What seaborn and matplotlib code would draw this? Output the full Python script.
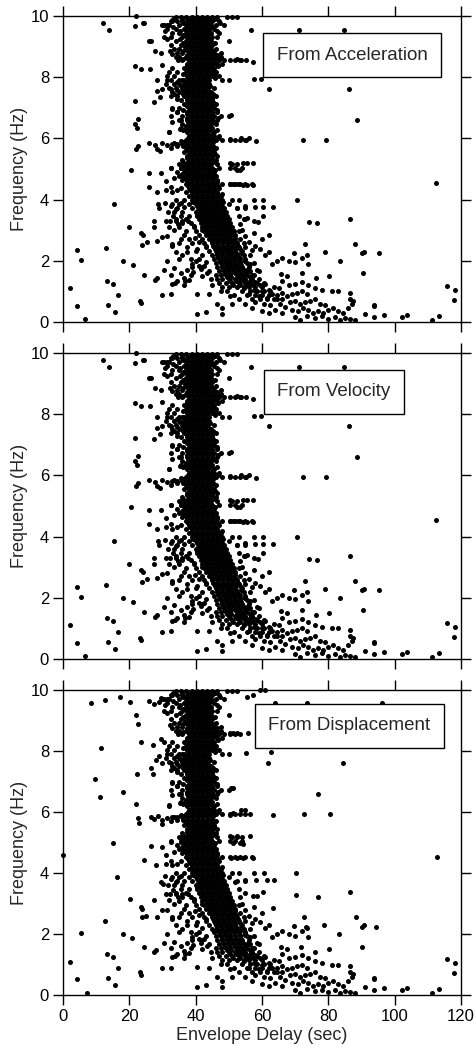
import matplotlib
matplotlib.use("Agg")
import matplotlib.pyplot as plt
import pandas as pd
import seaborn as sns

sns.set_style("ticks")
plt.rcParams['font.family'] = ['Liberation Sans', 'DejaVu Sans']

# ---------------- data (Envelope delay in sec, frequency in Hz) ----------------
panel_titles = ["From Acceleration", "From Velocity", "From Displacement"]
x_ticks = [0, 20, 40, 60, 80, 100, 120]
y_ticks = [0, 2, 4, 6, 8, 10]

# dense band, one row of delays per frequency level
band_freq = [9.96, 9.84, 9.71, 9.58, 9.45, 9.32, 9.19, 9.06, 8.93, 8.80, 8.67, 8.55, 8.42, 8.29,
             8.16, 8.03, 7.90, 7.77, 7.64, 7.51, 7.38, 7.25, 7.12, 6.99, 6.86, 6.73, 6.60, 6.47,
             6.34, 6.21, 6.08, 5.95, 5.82, 5.69, 5.56, 5.43, 5.30, 5.17, 5.04, 4.91, 4.78, 4.65,
             4.52, 4.39, 4.26, 4.13, 4.00, 3.87, 3.74, 3.61, 3.48, 3.35, 3.22, 3.09]
band_delay = [
    [34, 35.5, 37, 39, 40.5, 42, 43.5, 45, 46.5, 49.5, 51, 52.5],
    [33, 34.5, 36, 37.5, 39, 40.5, 42, 43.5, 45, 47],
    [30.5, 32, 35, 37, 38.5, 40, 41.5, 43, 44.5, 46, 48.5],
    [31.5, 34, 36.5, 38, 39.5, 41, 42.5, 44, 45.5],
    [33, 35, 37, 38.5, 40, 41.5, 43, 44.5, 47],
    [30.5, 32.5, 36, 37.5, 39, 40.5, 42, 43.5, 45, 46.5],
    [34, 37, 38.5, 40, 41.5, 43, 44.5, 50],
    [32.5, 35.5, 37.5, 39, 40.5, 42, 43.5, 45],
    [33.5, 35, 37, 38.5, 40, 41.5, 43, 44.5, 46],
    [34.5, 36, 38, 39.5, 41, 42.5, 44, 45.5, 47.5],
    [35, 37, 38.5, 40, 41.5, 43, 44.5, 46, 47.5],
    [36, 38, 39.5, 41, 42.5, 44, 45.5, 47, 48.5, 50.5, 52, 53.5],
    [37.5, 39, 40.5, 42, 43.5, 45, 46.5, 48],
    [33, 36.5, 38, 39.5, 41, 42.5, 44, 45.5],
    [32, 34.5, 37, 38.5, 40, 41.5, 43, 44.5, 46],
    [31.5, 33.5, 37.5, 39, 40.5, 42, 43.5, 45, 47],
    [32.5, 35, 36.5, 38, 39.5, 41, 42.5, 44, 48, 50],
    [31, 33.5, 35, 36.5, 38, 39.5, 41, 42.5, 44],
    [32, 34, 36, 37.5, 39, 40.5, 42, 43.5, 45.5],
    [33, 35, 37, 38.5, 40, 41.5, 43, 44.5],
    [32.5, 34.5, 36.5, 38, 39.5, 41, 42.5, 44, 46],
    [35.5, 37.5, 39, 40.5, 42, 43.5, 45],
    [36.5, 38.5, 40, 41.5, 43, 44.5, 46],
    [33, 35, 38, 39.5, 41, 42.5, 44, 45.5],
    [34.5, 37.5, 39, 40.5, 42, 43.5, 45, 46.5],
    [32.5, 36, 38, 39.5, 41, 42.5, 44, 45.5, 47.5, 50],
    [35, 37.5, 39, 40.5, 42, 43.5, 45, 46.5],
    [36, 38.5, 40, 41.5, 43, 44.5, 46],
    [35.5, 37, 39, 40.5, 42, 43.5, 45],
    [32, 37.5, 39, 40.5, 42, 43.5, 45.5],
    [38, 39.5, 41, 42.5, 44, 45.5, 47],
    [37, 38.5, 40, 41.5, 43, 44.5, 46, 48, 50.5, 52, 53.5, 55],
    [33, 34.5, 36, 37.5, 39, 40.5, 42, 43.5, 45],
    [37, 38.5, 40, 41.5, 43, 44.5, 46],
    [36.5, 38, 39.5, 41, 42.5, 44, 45.5],
    [37.5, 39, 40.5, 42, 43.5, 45, 46.5],
    [36, 38, 39.5, 41, 42.5, 44, 46],
    [35, 37, 38.5, 40, 41.5, 43, 44.5, 46.5, 51, 52.5],
    [32.5, 35.5, 37.5, 39, 40.5, 42, 43.5, 45, 47, 50.5, 52, 54],
    [34.5, 36.5, 38, 39.5, 41, 42.5, 44, 45.5],
    [35, 37, 38.5, 40, 41.5, 43, 44.5, 46],
    [36, 37.5, 39, 40.5, 42, 43.5, 45, 46.5],
    [37, 38.5, 40, 41.5, 43, 44.5, 46, 48, 50.5, 52, 53.5, 55, 57],
    [35.5, 38, 39.5, 41, 42.5, 44, 45.5, 47],
    [37, 39, 40.5, 42, 43.5, 45, 46.5],
    [38, 40, 41.5, 43, 44.5, 46, 47.5],
    [34, 36.5, 39, 40.5, 42, 43.5, 45, 46.5, 48, 51, 53],
    [33, 35, 38, 40, 41.5, 43, 44.5, 46, 47.5, 50],
    [34.5, 39, 41, 42.5, 44, 45.5, 47, 48.5, 52.5, 55],
    [33.5, 36, 40, 41.5, 43, 44.5, 46, 47.5, 49],
    [35.5, 38, 40.5, 42, 43.5, 45, 46.5, 48, 49.5, 53],
    [34, 37, 41, 42.5, 44, 45.5, 47, 48.5, 50, 55],
    [36, 38.5, 41.5, 43, 44.5, 46, 47.5, 49, 50.5],
    [35, 39.5, 42, 43.5, 45, 46.5, 48, 49.5, 51],
]

# interleaved rows filling the core of the band
core_freq = [9.90, 9.77, 9.64, 9.51, 9.38, 9.25, 9.12, 9.00, 8.87, 8.74, 8.61, 8.48, 8.35, 8.22,
             8.09, 7.96, 7.83, 7.70, 7.57, 7.44, 7.31, 7.18, 7.05, 6.92, 6.79, 6.66, 6.53, 6.40,
             6.27, 6.14, 6.01, 5.88, 5.75, 5.62, 5.49, 5.36, 5.23, 5.10, 4.97, 4.84, 4.71, 4.58,
             4.45, 4.32, 4.19, 4.06, 3.93, 3.80, 3.67, 3.54, 3.41, 3.28, 3.15, 3.02,
             2.89, 2.76, 2.63, 2.50, 2.37, 2.24, 2.11, 1.98, 1.85, 1.72, 1.59, 1.46, 1.33, 1.20]
core_delay = [
    [35.8, 38.3, 39.8, 41.3, 42.8, 44.3, 45.8],
    [36.3, 37.8, 39.3, 40.8, 42.3, 43.8, 47.3],
    [33.3, 37.3, 38.8, 40.3, 41.8, 43.3, 44.8],
    [35.3, 37.3, 38.8, 40.3, 41.8, 43.3, 46.3],
    [36.3, 37.8, 39.3, 40.8, 42.3, 43.8],
    [35.3, 38.3, 39.8, 41.3, 42.8, 44.3],
    [36.3, 37.8, 39.3, 40.8, 42.3, 43.8, 45.8],
    [36.8, 38.3, 39.8, 41.3, 42.8, 44.3],
    [36.3, 37.8, 39.3, 40.8, 42.3, 43.8, 45.3],
    [37.3, 38.8, 40.3, 41.8, 43.3, 44.8, 46.3],
    [36.3, 37.8, 39.3, 40.8, 42.3, 43.8, 45.3, 46.8],
    [38.3, 39.8, 41.3, 42.8, 44.3, 45.8],
    [37.3, 38.8, 40.3, 41.8, 43.3, 44.8, 46.8],
    [37.8, 39.3, 40.8, 42.3, 43.8, 45.3],
    [36.3, 38.3, 39.8, 41.3, 42.8, 44.3, 45.8],
    [37.8, 39.3, 40.8, 42.3, 43.8, 45.8],
    [34.3, 37.3, 38.8, 40.3, 41.8, 43.3],
    [36.8, 38.3, 39.8, 41.3, 42.8, 44.3],
    [34.3, 36.3, 37.8, 39.3, 40.8, 42.3, 43.8],
    [36.3, 37.8, 39.3, 40.8, 42.3, 43.8, 45.3],
    [37.3, 38.8, 40.3, 41.8, 43.3, 44.8],
    [37.8, 39.3, 40.8, 42.3, 43.8, 45.3],
    [37.3, 38.8, 40.3, 41.8, 43.3, 44.8],
    [36.3, 38.3, 39.8, 41.3, 42.8, 44.3, 46.3],
    [37.3, 38.8, 40.3, 41.8, 43.3, 44.8],
    [37.3, 38.8, 40.3, 41.8, 43.3, 44.8, 46.8],
    [37.8, 39.3, 40.8, 42.3, 43.8, 45.3],
    [38.3, 39.8, 41.3, 42.8, 44.3],
    [36.3, 38.3, 39.8, 41.3, 42.8, 44.3, 46.3],
    [38.8, 40.3, 41.8, 43.3, 44.8],
    [37.8, 39.3, 40.8, 42.3, 43.8, 45.3, 46.8],
    [36.3, 37.8, 39.3, 40.8, 42.3, 43.8, 45.3],
    [36.3, 37.8, 39.3, 40.8, 42.3, 43.8, 45.3],
    [37.3, 38.8, 40.3, 41.8, 43.3, 44.8],
    [38.3, 39.8, 41.3, 42.8, 44.3, 45.8],
    [37.3, 38.8, 40.3, 41.8, 43.3, 44.8],
    [36.3, 37.8, 39.3, 40.8, 42.3, 43.8, 45.3],
    [36.3, 37.8, 39.3, 40.8, 42.3, 43.8],
    [36.8, 38.3, 39.8, 41.3, 42.8, 44.3, 45.8],
    [35.8, 37.8, 39.3, 40.8, 42.3, 43.8, 45.3],
    [36.3, 37.8, 39.3, 40.8, 42.3, 43.8, 45.3],
    [37.3, 38.8, 40.3, 41.8, 43.3, 44.8, 46.3],
    [37.8, 39.3, 40.8, 42.3, 43.8, 45.3, 46.8],
    [38.3, 39.8, 41.3, 42.8, 44.3, 45.8],
    [38.8, 40.3, 41.8, 43.3, 44.8, 46.3, 47.8],
    [39.3, 40.8, 42.3, 43.8, 45.3, 46.8],
    [39.3, 40.8, 42.3, 43.8, 45.3, 46.8, 48.3],
    [40.3, 41.8, 43.3, 44.8, 46.3, 47.8],
    [40.8, 42.3, 43.8, 45.3, 46.8, 48.3],
    [41.3, 42.8, 44.3, 45.8, 47.3, 48.8],
    [41.8, 43.3, 44.8, 46.3, 47.8, 49.3],
    [42.3, 43.8, 45.3, 46.8, 48.3, 49.8],
    [42.8, 44.3, 45.8, 47.3, 48.8, 50.3],
    [43.3, 44.8, 46.3, 47.8, 49.3, 50.8],
    [43.8, 45.3, 46.8, 48.3, 49.8, 51.3],
    [44.3, 45.8, 47.3, 48.8, 50.3, 51.8],
    [44.8, 46.3, 47.8, 49.3, 50.8, 52.3],
    [45.3, 46.8, 48.3, 49.8, 51.3, 52.8],
    [45.8, 47.3, 48.8, 50.3, 51.8, 53.3],
    [46.3, 47.8, 49.3, 50.8, 52.3, 53.8],
    [46.8, 48.3, 49.8, 51.3, 52.8],
    [47.3, 48.8, 50.3, 51.8, 53.3, 54.8],
    [47.8, 49.3, 50.8, 52.3, 53.8],
    [48.3, 49.8, 51.3, 52.8, 54.3, 55.8],
    [48.8, 50.3, 51.8, 53.3, 55.3],
    [49.3, 50.8, 52.8, 54.3, 56.3],
    [50.3, 52.3, 54.3, 56.3],
    [51.3, 53.3, 55.3, 57.3],
]

# knee of the distribution, below 3 Hz
knee_freq = [2.96, 2.83, 2.70, 2.57, 2.44, 2.31, 2.18, 2.05, 1.92, 1.79, 1.66, 1.53,
             1.40, 1.27, 1.14, 1.01, 0.88, 0.75]
knee_delay = [
    [37, 40, 42.5, 44, 45.5, 47, 48.5, 50, 51.5, 53],
    [36.5, 41, 43, 44.5, 46, 47.5, 49, 50.5, 52],
    [38, 42, 44, 45.5, 47, 48.5, 50, 51.5, 53.5],
    [35, 39, 42.5, 45, 46.5, 48, 49.5, 51, 52.5, 54.5],
    [37.5, 43, 45.5, 47, 48.5, 50, 51.5, 53, 55],
    [40, 44, 46, 47.5, 49, 50.5, 52, 54],
    [36, 45, 46.5, 48, 49.5, 51, 52.5, 54.5, 56.5],
    [38.5, 41, 45.5, 47, 48.5, 50, 51.5, 53, 55],
    [46, 47.5, 49, 50.5, 52, 53.5, 55.5, 57.5],
    [39, 42, 46.5, 48, 49.5, 51, 52.5, 54, 56],
    [44, 47, 48.5, 50, 51.5, 53, 54.5, 56.5, 59],
    [46, 47.5, 49, 50.5, 52.5, 54, 55.5, 57.5],
    [46.5, 48, 50, 52, 53.5, 55, 57, 59],
    [47, 49, 51, 53, 55, 56.5, 58.5, 60.5],
    [48, 50, 52.5, 54.5, 56, 58, 60],
    [47.5, 49.5, 54, 56.5, 58.5, 60.5, 62.5],
    [51.5, 55.5, 58, 60, 62, 64.5],
    [53, 57, 59.5, 61.5, 63.5, 66],
]

# scattered points at the left fringe of the band (shared)
mid_points = [
    (29.8, 9.69), (30.9, 9.5), (31.3, 9.69), (31.4, 9.26), (32.5, 9.85), (33.2, 9.9), (32.2, 8.85),
    (33, 8.75), (34, 8.65), (34.8, 8.55), (31.4, 7.9), (32.5, 7.6), (33.5, 7.45), (34.5, 7.3),
    (35.2, 7.75), (36, 7.9), (30, 7.6), (33, 6.95), (34.5, 6.85), (35.5, 6.6), (32.8, 6.55),
    (31.9, 6.22), (35.3, 6.3), (37, 6.4), (31.5, 5.8), (32.5, 5.7), (33.5, 5.85), (34.5, 5.75),
    (35.5, 5.9), (32.5, 5.03), (35.6, 5.03), (31, 4.6), (32.5, 4.4), (33.5, 4.7), (34.5, 4.3),
    (31.2, 4.3), (33, 4.25), (30.8, 3.9), (31.7, 3.6), (32.5, 3.8), (33.3, 3.45), (34, 3.7),
    (35.5, 3.9), (36.5, 3.75), (31, 3.3), (32.2, 3.3), (34, 3.3), (35.8, 3.3), (37.8, 3.3),
    (32, 3.1), (33.5, 3.0), (34.8, 3.2), (35.5, 2.7), (31.5, 2.8), (32.8, 2.55), (33, 2.5),
    (34, 2.3), (35, 2.05), (31.5, 2.0), (33.5, 1.75), (35.5, 1.6), (32.5, 1.55), (34.5, 1.35),
    (36.5, 1.45), (37.5, 1.7), (38.5, 1.55), (33, 1.25), (30.5, 1.7), (36.5, 1.2), (39, 1.9),
    (40, 2.0), (37.5, 2.3), (30.0, 0.87), (32.6, 0.9), (40.3, 0.92), (40.4, 0.27), (43.0, 0.33),
    (46.3, 0.6), (48.0, 0.47), (48.0, 0.27), (51.0, 0.6), (44, 0.9), (50.5, 0.85),
    (33.9, 1.27), (36.7, 1.35), (38.1, 1.38), (39.3, 1.65), (40.9, 1.83), (42.5, 1.83),
    (40.5, 3.5), (39.5, 3.15), (41, 2.62), (40.5, 2.4), (42, 2.2), (43, 1.95), (43.5, 1.6),
    (44.5, 1.4), (45, 1.2), (42, 1.5), (41.5, 1.72), (43, 2.5), (41.8, 3.0), (39.8, 2.75),
]

# long-period tail and right-hand outliers (shared)
tail_points = [
    (53.5, 2.1), (55, 2.0), (56.5, 1.9), (54, 1.75), (55.5, 1.65), (57, 1.55), (58.5, 1.7),
    (53.5, 1.45), (55, 1.35), (56.5, 1.25), (58, 1.3), (59.5, 1.2), (61, 1.25), (54.5, 1.1),
    (57.5, 1.05), (60, 1.0), (62, 1.05), (63.5, 1.15), (65, 1.1), (56, 0.9), (59, 0.85),
    (61.5, 0.8), (63, 0.9), (64.5, 0.75), (66, 0.95), (67.5, 0.85), (69, 0.9), (70.5, 0.95),
    (72, 1.0), (73.5, 0.9), (58, 0.65), (60.5, 0.6), (62.5, 0.55), (65.5, 0.6), (67, 0.5),
    (68.5, 0.65), (70, 0.7), (71.5, 0.6), (73, 0.65), (74.5, 0.7), (76, 0.75), (77.5, 0.6),
    (79, 0.55), (55, 0.6), (57, 0.45), (60, 0.35), (62, 0.3), (64, 0.4), (66, 0.3), (69, 0.4),
    (71, 0.35), (72.5, 0.45), (74, 0.4), (75.5, 0.3), (77, 0.35), (78.5, 0.3), (80, 0.4),
    (81.5, 0.45), (83, 0.35), (70, 0.15), (71.5, 0.08), (73.5, 0.2), (76, 0.12), (78, 0.18),
    (80, 0.1), (82, 0.15), (83.5, 0.08), (85, 0.12), (86.5, 0.1), (88, 0.05), (84.5, 0.3),
    (86, 0.45), (87, 0.6), (86.5, 0.75), (87.5, 0.7), (81, 1.0), (82.9, 1.0), (86.5, 0.95),
    (68, 1.2), (70, 1.25), (72, 1.3), (74, 1.2), (76, 1.1), (78, 1.05), (66, 1.35), (67.5, 1.5),
    (65.8, 1.58), (63, 1.9), (64.5, 2.0), (66, 2.1), (68, 2.0), (70, 1.95), (72, 2.1),
    (73.5, 2.2), (69.5, 2.25), (74, 1.9), (62.2, 2.28), (60, 2.7), (58, 2.5), (59.5, 2.4),
    (61, 2.2), (57, 2.35), (56, 2.6), (55, 2.8), (54, 3.0), (53.5, 3.2), (57.6, 2.9),
    (115.9, 1.19), (118.3, 1.06), (117.9, 0.71), (111.2, 0.07), (113.3, 0.2), (102.2, 0.15),
    (103.6, 0.23), (96.8, 0.24), (93.8, 0.51), (93.8, 0.56), (91.1, 0.25), (93.8, 0.16),
]

# panel-specific outliers: acceleration / velocity
left_av = [
    (12.0, 9.78), (13.9, 9.54), (22.0, 10.0), (21.8, 9.67), (24.0, 9.78), (24.3, 9.78),
    (25.9, 9.18), (26.4, 9.18), (21.7, 8.35), (23.5, 8.27), (27.8, 8.86), (29.4, 8.78),
    (30.0, 8.40), (26.2, 8.28), (28.2, 7.9), (28.3, 7.55), (29.2, 7.35), (27.5, 7.2),
    (21.7, 7.23), (21.7, 6.48), (22.5, 6.65), (22.2, 6.35), (22.6, 5.76), (21.9, 5.65),
    (26.0, 5.84), (27.6, 5.8), (28.3, 5.65), (29.1, 5.6), (29.9, 5.84), (20.4, 4.98),
    (25.9, 4.87), (29.6, 4.87), (28.2, 4.25), (25.8, 4.42), (15.3, 3.86), (29.0, 3.73),
    (28.5, 3.85), (19.8, 3.11), (27.4, 3.09), (23.6, 2.9), (24.0, 2.83), (23.9, 2.52),
    (25.2, 2.62), (28.2, 2.65), (29.7, 2.78), (4.1, 2.35), (5.5, 2.03), (13.1, 2.41),
    (18.2, 2.0), (21.0, 1.85), (24.5, 1.55), (27.7, 1.37), (28.4, 1.44), (13.4, 1.34),
    (15.0, 1.25), (2.1, 1.11), (16.7, 0.87), (23.2, 0.7), (23.4, 0.61), (13.6, 0.54),
    (4.3, 0.52), (15.8, 0.32), (6.5, 0.09), (27.3, 3.3),
]
right_av = [
    (56.6, 9.54), (71.2, 9.54), (84.6, 9.54), (52.4, 8.58), (53.8, 8.55), (55.2, 8.57),
    (57.2, 8.5), (57.6, 7.94), (59.6, 7.94), (62.2, 7.6), (86.3, 7.6), (88.5, 6.59),
    (50.8, 6.76), (50.3, 5.98), (53.8, 6.02), (55.2, 5.96), (56.2, 6.02), (58.2, 5.93),
    (72.3, 5.95), (79.2, 5.95), (50.3, 5.18), (54.4, 5.2), (55.6, 5.18), (57.2, 5.2),
    (52.4, 4.98), (53.4, 4.97), (50.3, 4.52), (51.2, 4.5), (52.7, 4.5), (54.2, 4.48),
    (55.4, 4.49), (57.2, 4.47), (112.4, 4.53), (70.6, 3.99), (57.5, 3.99), (60.2, 3.99),
    (58, 3.77), (60.2, 3.77), (63.3, 3.77), (55, 3.8), (52.5, 3.72), (74.1, 3.27), (76.5, 3.24),
    (86.5, 3.37), (54.5, 3.35), (55.5, 3.4), (57.5, 3.3), (58.8, 3.27), (60.3, 3.45),
    (62.1, 2.83), (73.1, 2.55), (88.1, 2.55), (79.1, 2.28), (90.2, 2.25), (90.7, 2.3),
    (95.2, 2.25), (83.5, 1.99), (90.4, 1.59), (80.3, 1.5), (76.3, 1.44), (72.0, 1.59),
]

# panel-specific outliers: displacement
left_d = [
    (0.0, 4.6), (8.4, 9.57), (12.8, 9.68), (17.3, 9.77), (20.1, 9.6), (22.1, 9.19), (22.7, 8.88),
    (23.5, 8.29), (11.4, 8.1), (9.7, 7.09), (11.1, 6.48), (22.4, 7.23), (18.2, 6.66), (22.1, 6.25),
    (22.7, 5.8), (22.9, 5.65), (15.0, 4.99), (24.3, 4.43), (16.3, 3.88), (20.1, 3.14),
    (12.6, 2.42), (5.4, 2.03), (18.1, 2.0), (20.9, 1.86), (24.4, 1.56), (2.0, 1.09), (13.3, 1.35),
    (15.1, 1.26), (16.7, 0.87), (4.2, 0.52), (13.5, 0.55), (15.7, 0.33), (23.1, 0.74),
    (23.5, 0.64), (7.2, 0.07), (25.9, 9.65), (27.3, 9.55), (29.0, 9.62), (29.4, 9.75),
    (26.5, 5.85), (27.3, 5.78), (28.5, 5.87), (29.8, 5.62), (30.0, 5.75), (26.5, 4.88),
    (29.7, 4.86), (27.9, 4.25), (29.5, 3.72), (30.2, 3.65), (26.5, 7.45), (27.1, 7.25),
    (28.0, 7.7), (29.0, 7.85), (23.6, 2.9), (23.9, 2.83), (23.9, 2.55), (25.1, 2.6),
    (27.5, 3.12), (28.3, 2.57), (29.9, 2.79), (27.5, 1.4), (28.1, 1.46), (29.6, 8.4),
    (30.4, 8.3), (27.0, 8.2),
]
right_d = [
    (55.6, 9.78), (57.2, 9.82), (59.4, 10.0), (60.9, 10.0), (63.8, 9.56), (73.5, 9.56),
    (96.1, 9.56), (50.3, 8.58), (51.3, 8.6), (52.4, 8.6), (55.8, 8.58), (55.3, 7.94),
    (62.7, 7.97), (61.7, 7.62), (84.5, 7.62), (76.9, 6.59), (50.8, 6.78), (51.3, 6.8),
    (50.3, 5.9), (51.3, 5.96), (53.8, 6.07), (54.8, 6.07), (56.3, 5.92), (63.4, 5.89),
    (72.6, 5.93), (80.6, 5.93), (50.3, 5.2), (52.4, 5.2), (53.9, 5.18), (56.5, 5.2),
    (51.3, 4.98), (53.3, 4.98), (54.3, 4.96), (50.8, 4.5), (52.4, 4.5), (54.4, 4.5),
    (57.4, 4.5), (112.7, 4.53), (57.6, 3.99), (60.6, 3.99), (63.6, 3.77), (58.2, 3.77),
    (61.6, 3.77), (54.9, 3.77), (51.9, 3.72), (70.3, 3.99), (60.4, 3.38), (58.4, 3.25),
    (57.4, 3.25), (70.3, 3.27), (76.9, 3.22), (86.5, 3.38), (63.4, 2.84), (72.6, 2.55),
    (88.3, 2.55), (73.2, 2.22), (90.3, 2.22), (90.9, 2.28), (94.5, 2.24), (78.8, 2.28),
    (83.2, 2.0), (90.3, 1.58), (80.2, 1.5), (76.1, 1.41), (71.8, 1.58),
]


# ---------------- assemble ----------------
def rows_to_pairs(freqs, delays):
    out = []
    for f, row in zip(freqs, delays):
        out += [(d, f) for d in row]
    return out


shared = rows_to_pairs(band_freq, band_delay) + rows_to_pairs(core_freq, core_delay) \
    + rows_to_pairs(knee_freq, knee_delay) + mid_points + tail_points
panel_points = [shared + left_av + right_av,
                shared + left_av + right_av,
                shared + left_d + right_d]

# ---------------- figure ----------------
W, H = 477, 1053
fig = plt.figure(figsize=(W / 100, H / 100), dpi=100)
ax_left = 63 / W
ax_w = (461 - 63) / W
panel_px = [(16, 322), (353, 659), (690, 995)]
box_pos = [(0.727, 0.871), (0.680, 0.873), (0.720, 0.882)]

for i, (top, bot) in enumerate(panel_px):
    ax = fig.add_axes([ax_left, 1 - bot / H, ax_w, (bot - top) / H])
    df = pd.DataFrame(panel_points[i], columns=["delay", "freq"])
    sns.scatterplot(data=df, x="delay", y="freq", ax=ax, color="black", s=13,
                    linewidth=0, clip_on=False, zorder=2)
    ax.set_xlim(0, 120)
    ax.set_ylim(0, 10)
    ax.set_xticks(x_ticks)
    ax.set_yticks(y_ticks)
    for sp in ax.spines.values():
        sp.set_linewidth(1.0)
        sp.set_color("black")
    ax.tick_params(direction="out", length=7, width=1.0, top=True, right=True,
                   labelsize=12, pad=3, colors="black",
                   labelbottom=(i == 2), labeltop=False, labelright=False)
    ax.set_ylabel("Frequency (Hz)", fontsize=13, labelpad=2)
    if i == 2:
        ax.set_xlabel("Envelope Delay (sec)", fontsize=13, labelpad=2)
    else:
        ax.set_xlabel("")
    bx, by = box_pos[i]
    ax.text(bx, by, panel_titles[i], transform=ax.transAxes, ha="center", va="center",
            fontsize=13.5, zorder=5,
            bbox=dict(boxstyle="square,pad=0.72", fc="white", ec="black", lw=1.0))

fig.savefig("out.png", dpi=100)
